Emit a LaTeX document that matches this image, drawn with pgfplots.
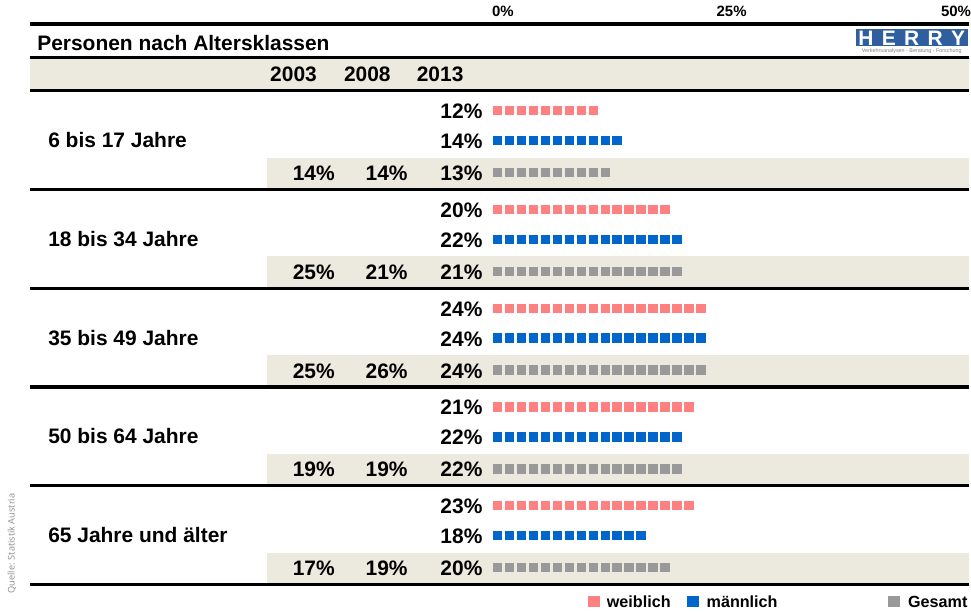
\documentclass[border=0pt]{standalone}
\usepackage{fontspec}
\setmainfont{Liberation Sans}
\newfontfamily\srcfont{Open Sans}
\usepackage{pgfplots}
\usepackage{pgfplotstable}
\pgfplotsset{compat=1.18}

\definecolor{wcol}{HTML}{FF8080}
\definecolor{mcol}{HTML}{0066CC}
\definecolor{gcol}{HTML}{999999}
\definecolor{band}{HTML}{ECE9DF}
\definecolor{herry}{HTML}{2F5F9E}

% bar ends (%), y = row position (px from top)
\pgfplotstableread{
grp yw  w    ym  m    yg  g
1   111 11.9 141 14.5 173 13.2
2   210 19.9 240 21.2 272 21.2
3   309 23.9 339 23.9 371 23.9
4   408 22.5 438 21.2 470 21.2
5   507 22.5 537 17.2 569 19.9
}\bars

\tikzset{
  px/.style={x=0.5pt, y=-0.5pt},
  lab/.style={font=\bfseries\fontsize{10.5}{12}\selectfont, inner sep=0pt},
  leg/.style={font=\bfseries\fontsize{8.1}{10}\selectfont, inner sep=0pt},
}

\begin{document}
\begin{tikzpicture}
\begin{scope}[px]
  \useasboundingbox (0,0) rectangle (971,613);
  % background bands
  \fill[band] (30,58) rectangle (971,91);
  \foreach \g in {91,190,289,388,487}
    \fill[band] (268,\g+67) rectangle (971,\g+98);
\end{scope}

\begin{axis}[
  at={(247pt,-12pt)}, anchor=north west,
  x=4.5pt, y=0.5pt, y dir=reverse,
  xmin=0, xmax=53, ymin=24, ymax=586,
  axis line style={draw=none},
  xtick={0,25,50}, xticklabels={0\%,25\%,50\%},
  xtick pos=upper, xticklabel pos=upper,
  major tick length=0pt, ytick=\empty,
  xticklabel style={anchor=south west, inner sep=0pt, xshift=-0.5pt, yshift=3.5pt,
                    font=\bfseries\fontsize{7.5}{9}\selectfont},
  clip=false,
  every axis plot/.append style={xcomb, mark=none, line width=4.7pt,
                                 dash pattern=on 4.7pt off 1.3pt},
]
  \addplot[draw=wcol] table[x=w, y=yw] {\bars};
  \addplot[draw=mcol] table[x=m, y=ym] {\bars};
  \addplot[draw=gcol] table[x=g, y=yg] {\bars};
\end{axis}

\begin{scope}[px]
  % rules
  \foreach \y in {24,58,91,190,289,388,487,586}
    \draw[line width=1.65pt] (30,\y) -- (971,\y);

  % header
  \node[lab, anchor=base west] at (37,51) {Personen nach Altersklassen};
  \node[lab, anchor=base east] at (318,82) {2003};
  \node[lab, anchor=base east] at (392,82) {2008};
  \node[lab, anchor=base east] at (465,82) {2013};

  % logo
  \fill[herry] (858,29) rectangle (970,46);
  \node[text=white, inner sep=0pt, font=\bfseries\fontsize{10.5}{10}\selectfont]
    at (914,38) {H\hspace{4.2pt}E\hspace{4.2pt}R\hspace{4.2pt}R\hspace{4.2pt}Y};
  \node[text=gray, inner sep=0pt, font=\fontsize{2.7}{3}\selectfont]
    at (914,51) {Verkehrsanalysen - Beratung - Forschung};

  % row labels and values
  \foreach \g/\name/\w/\m/\a/\b/\c in {
      91/6 bis 17 Jahre/12/14/14/14/13,
      190/18 bis 34 Jahre/20/22/25/21/21,
      289/35 bis 49 Jahre/24/24/25/26/24,
      388/50 bis 64 Jahre/21/22/19/19/22,
      487/65 Jahre und älter/23/18/17/19/20}{
    \node[lab, anchor=base west] at (48,\g+57) {\name};
    \node[lab, anchor=base east] at (484,\g+28) {\w\%};
    \node[lab, anchor=base east] at (484,\g+58) {\m\%};
    \node[lab, anchor=base east] at (336,\g+90) {\a\%};
    \node[lab, anchor=base east] at (409,\g+90) {\b\%};
    \node[lab, anchor=base east] at (484,\g+90) {\c\%};
  }

  % legend
  \fill[wcol] (589,597) rectangle (601,609);
  \node[leg, anchor=base west] at (608,609) {weiblich};
  \fill[mcol] (689,597) rectangle (701,609);
  \node[leg, anchor=base west] at (708,609) {männlich};
  \fill[gcol] (890,597) rectangle (902,609);
  \node[leg, anchor=base west] at (910,609) {Gesamt};

  % source
  \node[rotate=90, inner sep=0pt, text=gray!90, font=\srcfont\fontsize{4.6}{5}\selectfont]
    at (12,545) {Quelle: Statistik Austria};
\end{scope}
\end{tikzpicture}
\end{document}
